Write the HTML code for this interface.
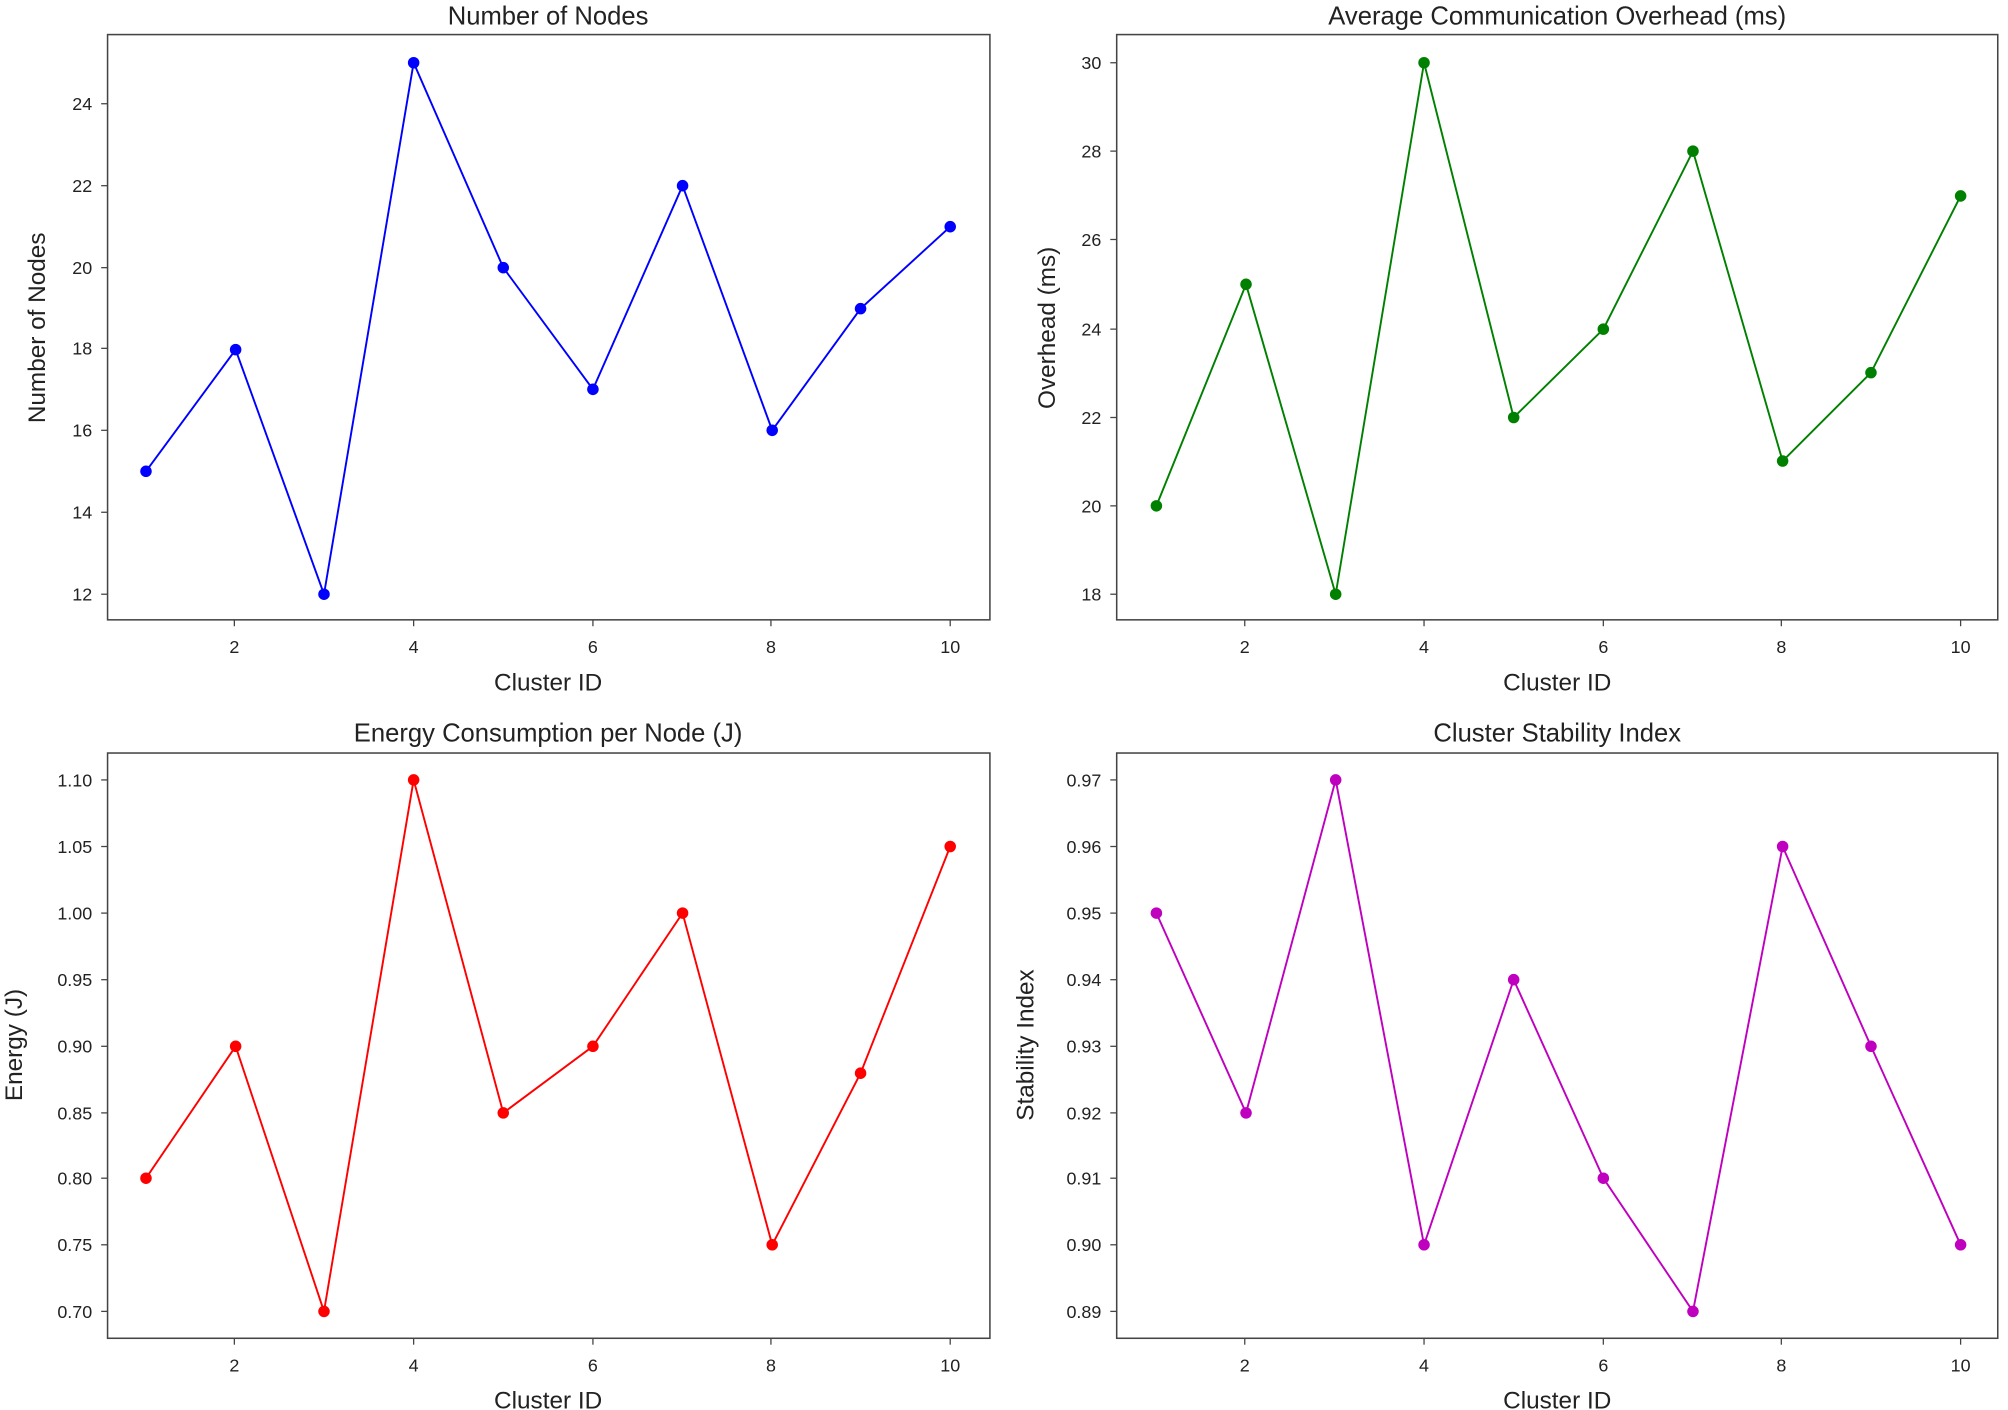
<!DOCTYPE html>
<html><head><meta charset="utf-8"><style>html,body{margin:0;padding:0;background:#fff}svg{display:block}</style></head>
<body>
<svg width="2008" height="1410" viewBox="0 0 1568 1101" preserveAspectRatio="none" xmlns="http://www.w3.org/2000/svg" font-family="Liberation Sans, DejaVu Sans, sans-serif" fill="#222">
<!-- Top-left -->
<g>
<rect x="84" y="27" width="689" height="457" fill="none" stroke="#444" stroke-width="1.2"/>
<g font-size="14" text-anchor="end">
<text x="72" y="86">24</text><text x="72" y="150">22</text><text x="72" y="214">20</text><text x="72" y="277">18</text><text x="72" y="341">16</text><text x="72" y="405">14</text><text x="72" y="469">12</text>
</g>
<g stroke="#444"><line x1="79" x2="84" y1="81" y2="81"/><line x1="79" x2="84" y1="145" y2="145"/><line x1="79" x2="84" y1="209" y2="209"/><line x1="79" x2="84" y1="272" y2="272"/><line x1="79" x2="84" y1="336" y2="336"/><line x1="79" x2="84" y1="400" y2="400"/><line x1="79" x2="84" y1="464" y2="464"/>
<line x1="183" x2="183" y1="484" y2="489"/><line x1="323" x2="323" y1="484" y2="489"/><line x1="463" x2="463" y1="484" y2="489"/><line x1="602" x2="602" y1="484" y2="489"/><line x1="742" x2="742" y1="484" y2="489"/></g>
<g font-size="14" text-anchor="middle"><text x="183" y="510">2</text><text x="323" y="510">4</text><text x="463" y="510">6</text><text x="602" y="510">8</text><text x="742" y="510">10</text></g>
<text x="428" y="539" font-size="19" text-anchor="middle">Cluster ID</text>
<text x="428" y="19" font-size="20" text-anchor="middle">Number of Nodes</text>
<text transform="translate(35,256) rotate(-90)" font-size="19" text-anchor="middle">Number of Nodes</text>
<polyline fill="none" stroke="#0000ff" stroke-width="1.5" points="114,368 184,273 253,464 323,49 393,209 463,304 533,145 603,336 672,241 742,177"/>
<g fill="#0000ff"><circle cx="114" cy="368" r="4.5"/><circle cx="184" cy="273" r="4.5"/><circle cx="253" cy="464" r="4.5"/><circle cx="323" cy="49" r="4.5"/><circle cx="393" cy="209" r="4.5"/><circle cx="463" cy="304" r="4.5"/><circle cx="533" cy="145" r="4.5"/><circle cx="603" cy="336" r="4.5"/><circle cx="672" cy="241" r="4.5"/><circle cx="742" cy="177" r="4.5"/></g>
</g>
<!-- Top-right -->
<g>
<rect x="872" y="27" width="688" height="457" fill="none" stroke="#444" stroke-width="1.2"/>
<g font-size="14" text-anchor="end">
<text x="860" y="54">30</text><text x="860" y="123">28</text><text x="860" y="192">26</text><text x="860" y="262">24</text><text x="860" y="331">22</text><text x="860" y="400">20</text><text x="860" y="469">18</text>
</g>
<g stroke="#444"><line x1="867" x2="872" y1="49" y2="49"/><line x1="867" x2="872" y1="118" y2="118"/><line x1="867" x2="872" y1="187" y2="187"/><line x1="867" x2="872" y1="257" y2="257"/><line x1="867" x2="872" y1="326" y2="326"/><line x1="867" x2="872" y1="395" y2="395"/><line x1="867" x2="872" y1="464" y2="464"/>
<line x1="972" x2="972" y1="484" y2="489"/><line x1="1112" x2="1112" y1="484" y2="489"/><line x1="1252" x2="1252" y1="484" y2="489"/><line x1="1391" x2="1391" y1="484" y2="489"/><line x1="1531" x2="1531" y1="484" y2="489"/></g>
<g font-size="14" text-anchor="middle"><text x="972" y="510">2</text><text x="1112" y="510">4</text><text x="1252" y="510">6</text><text x="1391" y="510">8</text><text x="1531" y="510">10</text></g>
<text x="1216" y="539" font-size="19" text-anchor="middle">Cluster ID</text>
<text x="1216" y="19" font-size="20" text-anchor="middle">Average Communication Overhead (ms)</text>
<text transform="translate(824,256) rotate(-90)" font-size="19" text-anchor="middle">Overhead (ms)</text>
<polyline fill="none" stroke="#008000" stroke-width="1.5" points="903,395 973,222 1043,464 1112,49 1182,326 1252,257 1322,118 1392,360 1461,291 1531,153"/>
<g fill="#008000"><circle cx="903" cy="395" r="4.5"/><circle cx="973" cy="222" r="4.5"/><circle cx="1043" cy="464" r="4.5"/><circle cx="1112" cy="49" r="4.5"/><circle cx="1182" cy="326" r="4.5"/><circle cx="1252" cy="257" r="4.5"/><circle cx="1322" cy="118" r="4.5"/><circle cx="1392" cy="360" r="4.5"/><circle cx="1461" cy="291" r="4.5"/><circle cx="1531" cy="153" r="4.5"/></g>
</g>
<!-- Bottom-left -->
<g>
<rect x="84" y="588" width="689" height="457" fill="none" stroke="#444" stroke-width="1.2"/>
<g font-size="14" text-anchor="end">
<text x="72" y="614">1.10</text><text x="72" y="666">1.05</text><text x="72" y="718">1.00</text><text x="72" y="770">0.95</text><text x="72" y="822">0.90</text><text x="72" y="874">0.85</text><text x="72" y="925">0.80</text><text x="72" y="977">0.75</text><text x="72" y="1029">0.70</text>
</g>
<g stroke="#444"><line x1="79" x2="84" y1="609" y2="609"/><line x1="79" x2="84" y1="661" y2="661"/><line x1="79" x2="84" y1="713" y2="713"/><line x1="79" x2="84" y1="765" y2="765"/><line x1="79" x2="84" y1="817" y2="817"/><line x1="79" x2="84" y1="869" y2="869"/><line x1="79" x2="84" y1="920" y2="920"/><line x1="79" x2="84" y1="972" y2="972"/><line x1="79" x2="84" y1="1024" y2="1024"/>
<line x1="183" x2="183" y1="1045" y2="1050"/><line x1="323" x2="323" y1="1045" y2="1050"/><line x1="463" x2="463" y1="1045" y2="1050"/><line x1="602" x2="602" y1="1045" y2="1050"/><line x1="742" x2="742" y1="1045" y2="1050"/></g>
<g font-size="14" text-anchor="middle"><text x="183" y="1071">2</text><text x="323" y="1071">4</text><text x="463" y="1071">6</text><text x="602" y="1071">8</text><text x="742" y="1071">10</text></g>
<text x="428" y="1100" font-size="19" text-anchor="middle">Cluster ID</text>
<text x="428" y="579" font-size="20" text-anchor="middle">Energy Consumption per Node (J)</text>
<text transform="translate(17,816) rotate(-90)" font-size="19" text-anchor="middle">Energy (J)</text>
<polyline fill="none" stroke="#ff0000" stroke-width="1.5" points="114,920 184,817 253,1024 323,609 393,869 463,817 533,713 603,972 672,838 742,661"/>
<g fill="#ff0000"><circle cx="114" cy="920" r="4.5"/><circle cx="184" cy="817" r="4.5"/><circle cx="253" cy="1024" r="4.5"/><circle cx="323" cy="609" r="4.5"/><circle cx="393" cy="869" r="4.5"/><circle cx="463" cy="817" r="4.5"/><circle cx="533" cy="713" r="4.5"/><circle cx="603" cy="972" r="4.5"/><circle cx="672" cy="838" r="4.5"/><circle cx="742" cy="661" r="4.5"/></g>
</g>
<!-- Bottom-right -->
<g>
<rect x="872" y="588" width="688" height="457" fill="none" stroke="#444" stroke-width="1.2"/>
<g font-size="14" text-anchor="end">
<text x="860" y="614">0.97</text><text x="860" y="666">0.96</text><text x="860" y="718">0.95</text><text x="860" y="770">0.94</text><text x="860" y="822">0.93</text><text x="860" y="874">0.92</text><text x="860" y="925">0.91</text><text x="860" y="977">0.90</text><text x="860" y="1029">0.89</text>
</g>
<g stroke="#444"><line x1="867" x2="872" y1="609" y2="609"/><line x1="867" x2="872" y1="661" y2="661"/><line x1="867" x2="872" y1="713" y2="713"/><line x1="867" x2="872" y1="765" y2="765"/><line x1="867" x2="872" y1="817" y2="817"/><line x1="867" x2="872" y1="869" y2="869"/><line x1="867" x2="872" y1="920" y2="920"/><line x1="867" x2="872" y1="972" y2="972"/><line x1="867" x2="872" y1="1024" y2="1024"/>
<line x1="972" x2="972" y1="1045" y2="1050"/><line x1="1112" x2="1112" y1="1045" y2="1050"/><line x1="1252" x2="1252" y1="1045" y2="1050"/><line x1="1391" x2="1391" y1="1045" y2="1050"/><line x1="1531" x2="1531" y1="1045" y2="1050"/></g>
<g font-size="14" text-anchor="middle"><text x="972" y="1071">2</text><text x="1112" y="1071">4</text><text x="1252" y="1071">6</text><text x="1391" y="1071">8</text><text x="1531" y="1071">10</text></g>
<text x="1216" y="1100" font-size="19" text-anchor="middle">Cluster ID</text>
<text x="1216" y="579" font-size="20" text-anchor="middle">Cluster Stability Index</text>
<text transform="translate(807,816) rotate(-90)" font-size="19" text-anchor="middle">Stability Index</text>
<polyline fill="none" stroke="#bf00bf" stroke-width="1.5" points="903,713 973,869 1043,609 1112,972 1182,765 1252,920 1322,1024 1392,661 1461,817 1531,972"/>
<g fill="#bf00bf"><circle cx="903" cy="713" r="4.5"/><circle cx="973" cy="869" r="4.5"/><circle cx="1043" cy="609" r="4.5"/><circle cx="1112" cy="972" r="4.5"/><circle cx="1182" cy="765" r="4.5"/><circle cx="1252" cy="920" r="4.5"/><circle cx="1322" cy="1024" r="4.5"/><circle cx="1392" cy="661" r="4.5"/><circle cx="1461" cy="817" r="4.5"/><circle cx="1531" cy="972" r="4.5"/></g>
</g>
</svg>
</body></html>
